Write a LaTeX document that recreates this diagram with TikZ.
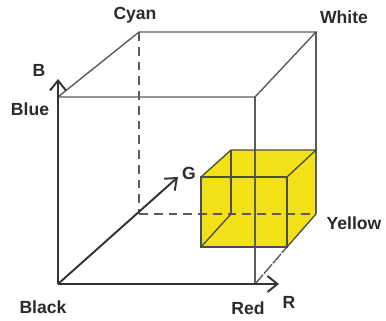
\documentclass[tikz,border=0pt]{standalone}
\usepackage{xcolor}
\usepackage{fontspec}
\setmainfont{Liberation Sans}
\usepackage{tikz}
\usetikzlibrary{arrows.meta}
\definecolor{cubeyellow}{HTML}{F2E116}
\definecolor{edgegray}{HTML}{5C5C5C}
\definecolor{labelgray}{HTML}{2A2A2A}

\begin{document}
\begin{tikzpicture}[
    x=0.02cm, y=-0.02cm,
    lbl/.style={inner sep=0pt, text=labelgray, font=\fontsize{10}{12}\selectfont\bfseries},
    big/.style={draw=edgegray, line width=0.8pt},
    bigdash/.style={big, dash pattern=on 5pt off 3.4pt},
    small/.style={draw=black!70, line width=0.75pt},
    axis/.style={-{Straight Barb[length=2mm,width=3.2mm]}, draw=black!80, line width=1.1pt},
    face/.style={fill=cubeyellow, draw=none}
  ]
    \useasboundingbox (0,0) rectangle (386,321);

    % Corners of the large cube
    \coordinate (black) at (58,284);
    \coordinate (red)   at (255,284);
    \coordinate (blue)  at (58,97);
    \coordinate (top)   at (255,97);
    \coordinate (cyan)  at (139,32);
    \coordinate (white) at (316,32);
    \coordinate (green) at (139,214);
    \coordinate (yellow) at (316,214);

    % Axis tips
    \coordinate (btip) at (58,79);
    \coordinate (rtip) at (279,284);
    \coordinate (gtip) at (178,177);

    % Corners of the small cube
    \coordinate (fa) at (201,177);
    \coordinate (fb) at (287,177);
    \coordinate (fc) at (287,247);
    \coordinate (fd) at (201,247);
    \coordinate (ba) at (231,150);
    \coordinate (bb) at (316,150);
    \coordinate (bd) at (231,214);

    % Yellow solid
    \fill[face] (fa) -- (ba) -- (bb) -- (yellow) -- (fc) -- (fd) -- cycle;

    % Large cube
    \draw[big] (blue) -- (top) -- (white) -- (cyan) -- (blue);
    \draw[big] (top) -- (red);
    \draw[big] (white) -- (yellow);
    \draw[bigdash] (cyan) -- (green);
    \draw[bigdash] (green) -- (yellow);
    \draw[big, dash pattern=on 7pt off 0.8pt] (red) -- (fc);

    % Small cube
    \draw[small] (fa) -- (fb) -- (fc) -- (fd) -- cycle;
    \draw[small] (fa) -- (ba) -- (bb) -- (fb);
    \draw[small] (ba) -- (bd);
    \draw[small] (fd) -- (bd);
    \draw[small] (fc) -- (yellow);

    % Axes
    \draw[axis] (black) -- (btip);
    \draw[axis] (black) -- (rtip);
    \draw[axis] (black) -- (gtip);

    % Labels
    \node[lbl] (lcyan)   at (135,15)  {Cyan};
    \node[lbl] (lwhite)  at (344,17)  {White};
    \node[lbl] (lb)      at (39,70)   {B};
    \node[lbl] (lblue)   at (30,109)  {Blue};
    \node[lbl] (lg)      at (189,173) {G};
    \node[lbl] (lyellow) at (354,223) {Yellow};
    \node[lbl] (lblack)  at (43,307)  {Black};
    \node[lbl] (lred)    at (248,308) {Red};
    \node[lbl] (lr)      at (289,302) {R};
\end{tikzpicture}
\end{document}
